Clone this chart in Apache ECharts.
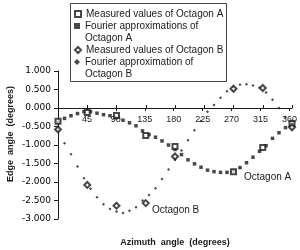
<!DOCTYPE html>
<html>
<head>
<meta charset="utf-8">
<script src="https://cdn.jsdelivr.net/npm/echarts@6/dist/echarts.min.js"></script>
<style>
  html, body { margin: 0; padding: 0; background: #fff; }
  #chart { width: 300px; height: 250px; }
</style>
</head>
<body>
<div id="chart"></div>
<script>
// azimuth angles (degrees)
var fourierAngles = [0, 10, 20, 30, 40, 50, 60, 70, 80, 90, 100, 110, 120, 130, 140, 150, 160, 170, 180,
  190, 200, 210, 220, 230, 240, 250, 260, 270, 280, 290, 300, 310, 320, 330, 340, 350, 360];
var measuredAngles = [0, 45, 90, 135, 180, 225, 270, 315, 360];

// edge angles (degrees)
var fourierA = [-0.38, -0.28, -0.21, -0.15, -0.10, -0.10, -0.14, -0.18, -0.21, -0.26, -0.33, -0.40, -0.48,
  -0.62, -0.72, -0.79, -0.89, -1.00, -1.12, -1.26, -1.40, -1.51, -1.60, -1.68, -1.72, -1.74, -1.74,
  -1.70, -1.61, -1.48, -1.33, -1.17, -1.02, -0.82, -0.67, -0.53, -0.40];
var fourierB = [-0.60, -0.95, -1.25, -1.58, -1.90, -2.18, -2.41, -2.60, -2.73, -2.80, -2.84, -2.78, -2.68,
  -2.50, -2.35, -2.17, -1.92, -1.66, -1.40, -1.15, -0.87, -0.60, -0.35, -0.10, 0.08, 0.28, 0.45,
  0.56, 0.63, 0.64, 0.61, 0.55, 0.42, 0.22, 0.00, -0.25, -0.50];
var measuredA = [-0.36, -0.12, -0.20, -0.74, -1.04, null, -1.72, -1.07, -0.42];
var measuredB = [-0.58, -2.08, -2.64, -2.57, -1.31, null, 0.52, 0.54, -0.52];

function pairs(xs, ys) {
  var out = [];
  for (var i = 0; i < xs.length; i++) {
    if (ys[i] !== null) out.push([xs[i], ys[i]]);
  }
  return out;
}

var ink = '#1a1a1a';
var font = 'Liberation Sans, Arial, sans-serif';

// plot area: y from -3 to 1 between px 71 and 219, so y = 0 sits at px 108
var plotTop = 71, plotBottom = 31, zeroY = 108;

var myChart = echarts.init(document.getElementById('chart'));

function legendAt(name, top) {
  return {
    data: [name],
    left: 74,
    top: top,
    padding: 0,
    itemWidth: 6,
    itemHeight: 6,
    z: 10,
    selectedMode: false,
    formatter: function (n) {
      // two-line names: an empty first line keeps the icon level with the first text line
      if (n.indexOf('Fourier') === 0) return '\n' + n.replace(' Octagon', '\nOctagon');
      return n;
    },
    textStyle: { fontFamily: font, fontSize: 10, color: ink, lineHeight: 12 }
  };
}

function xAxisOn(gridIndex, extra) {
  return Object.assign({
    type: 'value',
    gridIndex: gridIndex,
    min: 0,
    max: 360,
    interval: 45,
    splitLine: { show: false }
  }, extra);
}

var option = {
  animation: false,
  grid: [
    { left: 58, right: 8, top: plotTop, bottom: plotBottom },
    // the x axis is drawn at y = 0: bottom edge of this band has the labels and lower ticks
    { left: 58, right: 8, top: plotTop, bottom: 250 - zeroY },
    // top edge of this band gives the upper half of the crossing ticks
    { left: 58, right: 8, top: zeroY, bottom: plotBottom }
  ],
  legend: [
    legendAt('Measured values of Octagon A', 8),
    legendAt('Fourier approximations of Octagon A', 8),
    legendAt('Measured values of Octagon B', 44),
    legendAt('Fourier approximation of Octagon B', 44)
  ],
  graphic: [
    { type: 'rect', z: 1, shape: { x: 70.5, y: 3.5, width: 156, height: 78 },
      style: { fill: '#fff', stroke: '#444', lineWidth: 1 } },
    { type: 'text', x: 175, y: 243, z: 5,
      style: { text: 'Azimuth  angle  (degrees)', align: 'center', verticalAlign: 'middle',
        font: 'bold 9px ' + font, fill: ink } },
    { type: 'text', x: 11, y: 134, rotation: Math.PI / 2, z: 5,
      style: { text: 'Edge  angle  (degrees)', align: 'center', verticalAlign: 'middle',
        font: 'bold 9px ' + font, fill: ink } },
    { type: 'text', x: 244, y: 177, z: 5,
      style: { text: 'Octagon A', align: 'left', verticalAlign: 'middle', font: '10px ' + font, fill: ink } },
    { type: 'text', x: 152, y: 210, z: 5,
      style: { text: 'Octagon B', align: 'left', verticalAlign: 'middle', font: '10px ' + font, fill: ink } }
  ],
  xAxis: [
    xAxisOn(0, { show: false }),
    xAxisOn(1, {
      position: 'bottom',
      axisLine: { onZero: false, lineStyle: { color: ink, width: 1 } },
      axisTick: { show: true, inside: false, length: 3, lineStyle: { color: ink } },
      axisLabel: {
        margin: 7, fontFamily: font, fontSize: 9, color: ink,
        formatter: function (v) { return v === 0 ? '' : String(v); }
      }
    }),
    xAxisOn(2, {
      position: 'top',
      axisLine: { onZero: false, lineStyle: { color: ink, width: 1 } },
      axisTick: { show: true, inside: false, length: 3, lineStyle: { color: ink } },
      axisLabel: { show: false }
    })
  ],
  yAxis: [
    {
      type: 'value',
      gridIndex: 0,
      min: -3,
      max: 1,
      interval: 0.5,
      splitLine: { show: false },
      axisLine: { show: true, onZero: false, lineStyle: { color: ink } },
      axisTick: { show: true, length: 4, lineStyle: { color: ink } },
      axisLabel: {
        margin: 7, fontFamily: 'DejaVu Sans, sans-serif', fontSize: 9, color: '#000',
        formatter: function (v) { return v.toFixed(3); }
      }
    },
    { type: 'value', gridIndex: 1, show: false },
    { type: 'value', gridIndex: 2, show: false }
  ],
  series: [
    {
      name: 'Fourier approximations of Octagon A',
      type: 'scatter',
      symbol: 'rect',
      symbolSize: 3.5,
      itemStyle: { color: ink },
      data: pairs(fourierAngles, fourierA),
      z: 2
    },
    {
      name: 'Fourier approximation of Octagon B',
      type: 'scatter',
      symbol: 'diamond',
      symbolSize: 3,
      itemStyle: { color: ink },
      data: pairs(fourierAngles, fourierB),
      z: 2
    },
    {
      name: 'Measured values of Octagon A',
      type: 'scatter',
      symbol: 'emptyRect',
      symbolSize: 5,
      itemStyle: { color: ink, borderWidth: 1 },
      data: pairs(measuredAngles, measuredA),
      z: 3
    },
    {
      name: 'Measured values of Octagon B',
      type: 'scatter',
      symbol: 'emptyDiamond',
      symbolSize: 6,
      itemStyle: { color: ink, borderWidth: 1 },
      data: pairs(measuredAngles, measuredB),
      z: 3
    }
  ]
};
myChart.setOption(option);
</script>
</body>
</html>
